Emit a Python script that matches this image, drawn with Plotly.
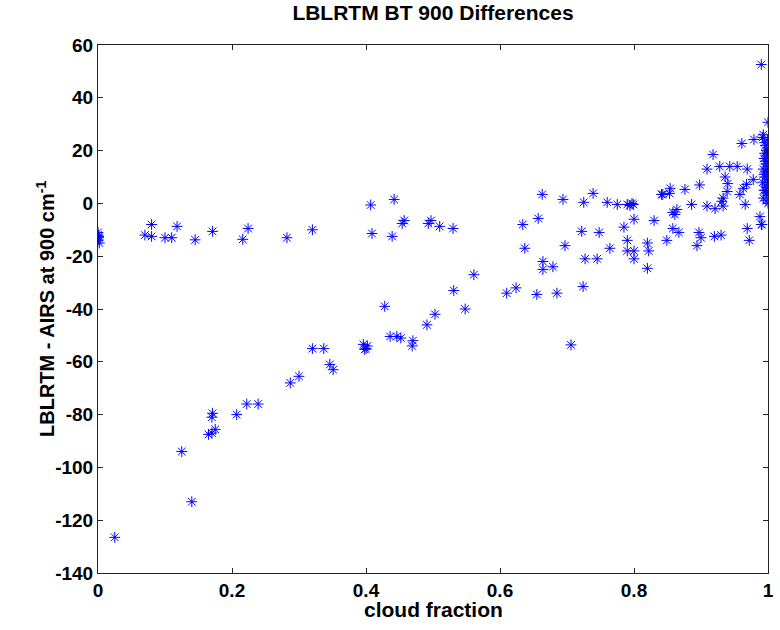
import plotly.graph_objects as go

# Cloud fraction vs. LBLRTM - AIRS brightness-temperature difference at 900 cm-1
cloud_fraction = [
    # clear-ish column at zero cloud fraction
    0.000, 0.000, 0.001, 0.000, 0.002, 0.001,
    # upper branch near -10 K
    0.070, 0.080, 0.080, 0.100, 0.110, 0.118, 0.145, 0.171, 0.216, 0.224,
    0.282, 0.320, 0.407, 0.409, 0.439, 0.442, 0.454, 0.457, 0.493, 0.497,
    0.510, 0.530,
    # lower branch rising with cloud fraction
    0.025, 0.125, 0.140, 0.165, 0.170, 0.175, 0.171, 0.170, 0.207, 0.222,
    0.239, 0.287, 0.300, 0.320, 0.337, 0.346, 0.351, 0.396, 0.400, 0.398,
    0.402, 0.428, 0.436, 0.446, 0.452, 0.469, 0.470, 0.491, 0.503, 0.531,
    0.548, 0.561, 0.610, 0.624, 0.634, 0.637, 0.655, 0.657, 0.663, 0.664,
    0.664, 0.679, 0.685, 0.694, 0.697, 0.706, 0.722, 0.724, 0.725, 0.727,
    0.739, 0.745, 0.748, 0.760, 0.764, 0.775, 0.785, 0.790, 0.790, 0.794,
    0.797, 0.799, 0.790, 0.800, 0.800, 0.800, 0.820, 0.820, 0.822, 0.830,
    0.841, 0.843, 0.849, 0.853, 0.854, 0.858, 0.858, 0.861, 0.864, 0.867,
    0.876, 0.886, 0.894, 0.897, 0.898, 0.900, 0.909, 0.909, 0.918, 0.920,
    0.921, 0.928, 0.930, 0.931, 0.933, 0.933, 0.936, 0.939, 0.940, 0.943,
    0.954, 0.958, 0.961, 0.963, 0.966, 0.968, 0.969, 0.969, 0.972, 0.978,
    0.979, 0.988, 0.990, 0.990, 0.991, 1.000,
    # overcast scenes
    0.992, 0.996, 0.998, 1.000, 0.994, 0.997, 1.000, 0.993, 0.998, 1.000,
    0.995, 0.999, 0.992, 0.997, 1.000, 0.994, 0.998, 1.000, 0.993, 0.997,
    0.999, 0.995, 1.000, 0.996, 0.999, 0.994, 1.000, 0.996, 1.000, 0.993,
    1.000, 0.995, 0.998,
]

bt_difference = [
    -11.0, -12.0, -13.0, -14.0, -15.0, -12.5,
    -12.0, -12.5, -8.0, -13.0, -13.0, -8.7, -13.8, -10.6, -13.6, -9.5,
    -13.0, -10.0, -0.6, -11.4, -12.5, 1.5, -7.6, -6.5, -7.6, -6.5,
    -8.7, -9.5,
    -126.5, -94.0, -113.0, -87.5, -87.0, -85.6, -79.5, -81.0, -80.0, -76.0,
    -76.0, -68.0, -65.5, -55.0, -55.0, -61.0, -63.0, -53.4, -55.0, -55.3,
    -54.0, -39.0, -50.4, -50.4, -51.0, -54.0, -52.0, -46.0, -42.0, -33.0,
    -40.0, -27.0, -34.0, -32.0, -8.0, -17.0, -34.5, -5.7, 3.4, -22.0,
    -25.0, -24.0, -34.0, 1.5, -16.0, -53.6, -10.6, -31.5, 0.4, -21.0,
    3.8, -21.0, -11.0, 0.4, -17.0, -0.4, -9.0, -14.0, -0.4, -0.8,
    0.0, -0.4, -18.0, -18.0, -21.0, -6.0, -24.6, -15.0, -18.0, -6.5,
    3.4, 3.4, -14.0, 3.8, 5.7, -3.4, -9.5, -4.2, -2.3, -11.0,
    5.3, -0.4, -16.0, -11.0, 7.0, -13.0, 13.0, -1.0, 18.5, -12.5,
    -2.0, 14.0, -12.0, 0.8, -1.0, 2.0, 10.0, 4.5, 7.5, 14.0,
    14.0, 3.4, 22.7, 5.7, -0.4, 7.2, 13.0, -9.5, -14.0, 9.0,
    24.2, -5.0, 52.6, -8.0, -8.0, 30.7,
    25.0, 22.0, 20.0, 18.0, 17.0, 15.0, 14.0, 13.0, 12.0, 11.0,
    10.0, 9.0, 8.0, 7.0, 6.0, 5.0, 4.0, 3.0, 2.0, 1.0,
    19.0, 23.0, 21.0, 16.0, 24.0, 11.0, 8.0, 5.0, 0.0, 26.0,
    16.0, 19.0, 13.0,
]

x_ticks = [0, 0.2, 0.4, 0.6, 0.8, 1]
x_tick_text = ["0", "0.2", "0.4", "0.6", "0.8", "1"]
y_ticks = [-140, -120, -100, -80, -60, -40, -20, 0, 20, 40, 60]
y_tick_text = ["-140", "-120", "-100", "-80", "-60", "-40", "-20", "0", "20", "40", "60"]

FONT = "Liberation Sans, Arial, sans-serif"
TICK_FONT = dict(family=FONT, size=19, color="black", weight="bold")
TITLE_FONT = dict(family=FONT, size=21, color="black", weight="bold")
XLABEL_FONT = dict(family=FONT, size=21, color="black", weight="bold")
YLABEL_FONT = dict(family=FONT, size=20, color="black", weight="bold")

fig = go.Figure(
    go.Scatter(
        x=cloud_fraction,
        y=bt_difference,
        mode="markers",
        marker=dict(symbol="asterisk-open", size=9, color="#0000ff",
                    line=dict(color="#0000ff", width=1)),
        showlegend=False,
    )
)

axis_common = dict(
    showline=True, linecolor="#222222", linewidth=1, mirror="ticks",
    ticks="inside", ticklen=5, tickcolor="#222222",
    showgrid=False, zeroline=False, automargin=False,
    tickfont=TICK_FONT,
)

fig.update_layout(
    width=780, height=630,
    margin=dict(l=98, r=12, t=45, b=57),
    paper_bgcolor="white", plot_bgcolor="white",
    title=dict(text="LBLRTM BT 900 Differences", x=0.5, xref="paper",
               xanchor="center", y=1 - 13 / 630, yref="container",
               yanchor="middle", font=TITLE_FONT),
    xaxis=dict(range=[0, 1], tickvals=x_ticks, ticktext=x_tick_text,
               **axis_common),
    yaxis=dict(range=[-140, 60], tickvals=y_ticks, ticktext=y_tick_text,
               **axis_common),
    annotations=[
        dict(text="cloud fraction", xref="paper", yref="paper",
             x=0.5, y=-(609 - 573) / 528, xanchor="center", yanchor="middle",
             showarrow=False, font=XLABEL_FONT),
        dict(text="LBLRTM - AIRS at 900 cm<sup>-1</sup>", xref="paper", yref="paper",
             x=(45 - 98) / 670, y=0.5, xanchor="center", yanchor="middle",
             textangle=-90, showarrow=False, font=YLABEL_FONT),
    ],
)

fig.write_html("out.html")
